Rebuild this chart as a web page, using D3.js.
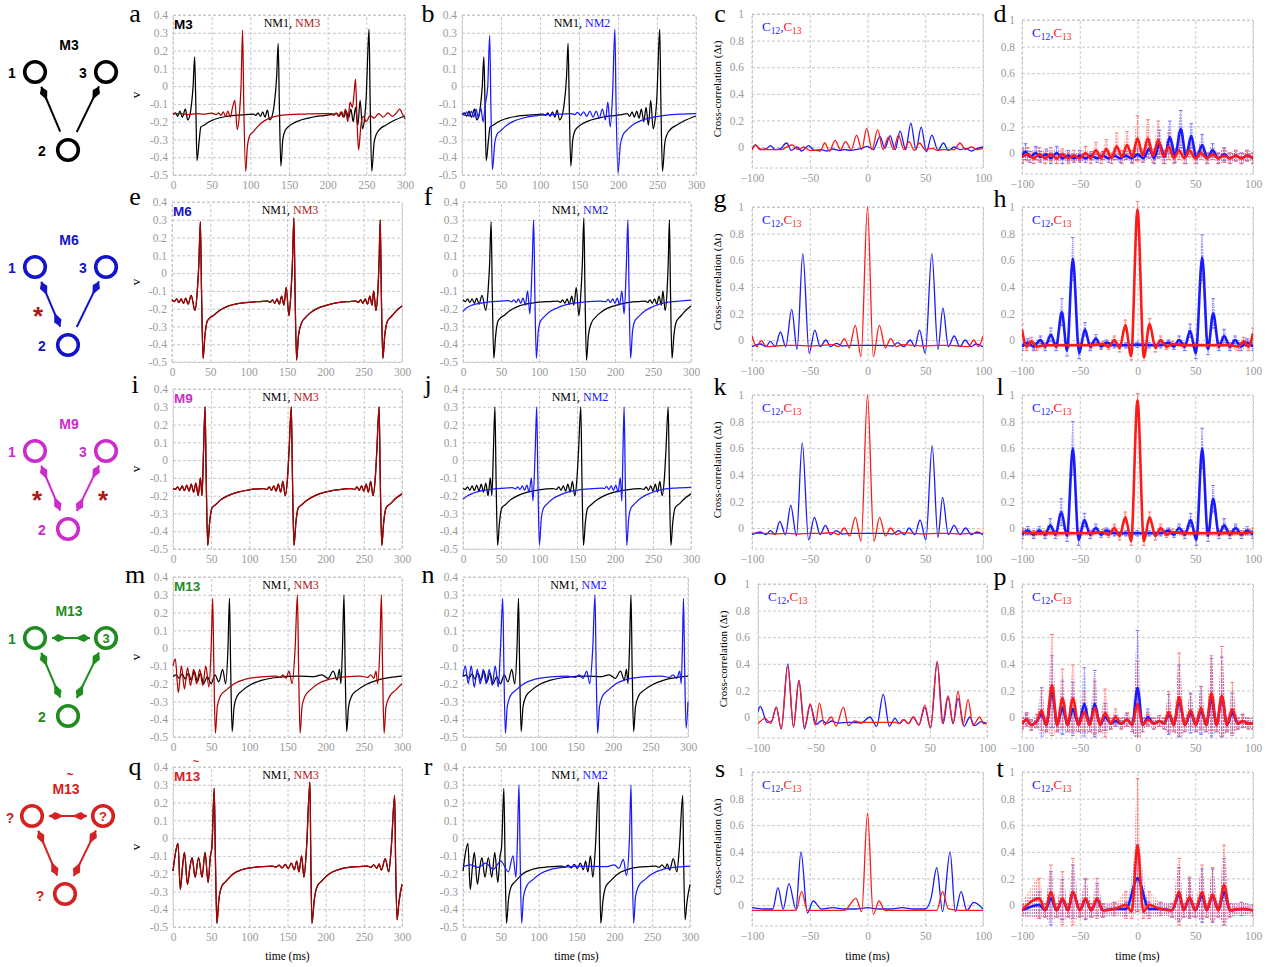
<!DOCTYPE html>
<html><head><meta charset="utf-8">
<script src="https://cdn.jsdelivr.net/npm/d3@7/dist/d3.min.js"></script>
<style>html,body{margin:0;padding:0;background:#fff}svg{display:block}</style>
</head><body>
<script>
// ================= DATA =================
const timeTicks=[0,50,100,150,200,250,300];
const voltTicks=[0.4,0.3,0.2,0.1,0,-0.1,-0.2,-0.3,-0.4,-0.5];
const lagTicks=[-100,-50,0,50,100];
const corrTicks=[0,0.2,0.4,0.6,0.8,1];
const motifNames=["M3","M6","M9","M13","M13"];
const letters=[["a","b","c","d"],["e","f","g","h"],["i","j","k","l"],["m","n","o","p"],["q","r","s","t"]];

// membrane voltage traces [time ms, v]
const r1NM1=[[0,-0.16],[3,-0.15],[6,-0.17],[9,-0.14],[12,-0.175],[16,-0.13],[19,-0.19],[22,-0.16],[24,-0.1],[26,0.0],[28,0.165],[29.5,-0.1],[31,-0.42],[34,-0.3],[36,-0.23],[40,-0.22],[45,-0.205],[55,-0.185],[70,-0.17],[90,-0.162],[104,-0.158],[107,-0.165],[110,-0.15],[113,-0.17],[116,-0.145],[119,-0.175],[122,-0.135],[125,-0.19],[128,-0.17],[131,-0.1],[134,0.05],[136,0.24],[137.5,-0.1],[139.5,-0.45],[142,-0.3],[145,-0.25],[150,-0.225],[160,-0.2],[175,-0.18],[190,-0.168],[205,-0.16],[212,-0.155],[215,-0.17],[218,-0.145],[221,-0.175],[224,-0.14],[227,-0.18],[230,-0.13],[233,-0.2],[236,-0.12],[239,-0.22],[242,-0.08],[245,-0.24],[248,-0.17],[250,-0.05],[252,0.2],[253.5,0.32],[255,-0.1],[257,-0.48],[260,-0.32],[263,-0.27],[268,-0.24],[275,-0.22],[285,-0.195],[300,-0.168]];
const r1NM3=[[0,-0.155],[10,-0.155],[20,-0.16],[30,-0.155],[40,-0.158],[50,-0.152],[56,-0.16],[59,-0.15],[62,-0.165],[65,-0.145],[68,-0.17],[71,-0.14],[74,-0.175],[77,-0.12],[80,-0.08],[83,-0.245],[86,-0.15],[88,0.0],[90,0.315],[91.5,-0.1],[94,-0.48],[96,-0.35],[99,-0.28],[103,-0.26],[108,-0.235],[115,-0.205],[125,-0.18],[135,-0.168],[150,-0.16],[170,-0.157],[190,-0.155],[205,-0.155],[208,-0.165],[211,-0.15],[214,-0.17],[217,-0.145],[220,-0.175],[223,-0.13],[226,-0.2],[229,-0.09],[232,-0.12],[234,-0.05],[236,0.04],[238,-0.2],[240,-0.36],[243,-0.22],[246,-0.17],[250,-0.2],[255,-0.165],[260,-0.18],[266,-0.155],[272,-0.175],[278,-0.15],[284,-0.17],[290,-0.145],[293,-0.13],[297,-0.16],[300,-0.185]];
const r1NM2=[[0,-0.155],[3,-0.165],[6,-0.145],[9,-0.17],[12,-0.14],[15,-0.175],[18,-0.13],[21,-0.18],[24,-0.12],[27,-0.2],[30,-0.1],[33,0.0],[35.5,0.285],[37,-0.1],[39,-0.47],[42,-0.32],[45,-0.27],[50,-0.25],[56,-0.225],[65,-0.2],[78,-0.18],[95,-0.167],[115,-0.16],[130,-0.157],[140,-0.155],[145,-0.16],[148,-0.148],[152,-0.165],[156,-0.145],[160,-0.17],[164,-0.14],[168,-0.175],[172,-0.14],[176,-0.18],[180,-0.13],[184,-0.19],[187,-0.09],[190,-0.23],[193,-0.05],[196,0.32],[197.5,-0.1],[200,-0.49],[203,-0.33],[207,-0.27],[212,-0.245],[220,-0.215],[232,-0.19],[245,-0.175],[260,-0.165],[280,-0.158],[300,-0.155]];
const r2NM1=[[0,-0.15],[3,-0.16],[6,-0.145],[9,-0.165],[12,-0.145],[15,-0.17],[18,-0.14],[21,-0.175],[25,-0.125],[30,-0.21],[33,-0.1],[35,0.05],[37,0.29],[38.5,-0.1],[40.5,-0.48],[43,-0.35],[46,-0.27],[50,-0.25],[55,-0.235],[62,-0.21],[75,-0.183],[93,-0.167],[115,-0.16],[125,-0.158],[128,-0.165],[131,-0.15],[134,-0.17],[137,-0.145],[140,-0.175],[143,-0.13],[146,-0.18],[149,-0.08],[152.5,-0.24],[155,-0.12],[157,0.05],[159,0.31],[160.5,-0.1],[162.5,-0.49],[165,-0.35],[169,-0.28],[174,-0.25],[180,-0.225],[189,-0.2],[200,-0.183],[211,-0.17],[232,-0.16],[240,-0.158],[243,-0.165],[246,-0.15],[249,-0.17],[252,-0.145],[255,-0.175],[258,-0.13],[261,-0.18],[263,-0.1],[266,-0.21],[268.5,-0.1],[270,0.05],[271.6,0.3],[273,-0.1],[275,-0.48],[277.5,-0.35],[281,-0.27],[287,-0.24],[293,-0.21],[300,-0.185]];
const r2NM2=[[0,-0.215],[5,-0.195],[12,-0.18],[22,-0.17],[35,-0.162],[50,-0.158],[60,-0.155],[64,-0.162],[67,-0.15],[70,-0.165],[73,-0.145],[76,-0.17],[79,-0.14],[82,-0.18],[85,-0.1],[88,-0.23],[91,0.05],[93,0.3],[94.5,-0.1],[96.5,-0.48],[99,-0.33],[102,-0.27],[107,-0.245],[115,-0.215],[127,-0.19],[142,-0.172],[160,-0.162],[180,-0.157],[188,-0.16],[191,-0.148],[194,-0.165],[197,-0.145],[200,-0.17],[203,-0.14],[206,-0.18],[209,-0.1],[212,-0.23],[215,0.05],[217,0.3],[218.5,-0.1],[220.5,-0.48],[223,-0.33],[226,-0.27],[231,-0.245],[240,-0.21],[252,-0.185],[268,-0.165],[285,-0.157],[300,-0.152]];
const r3NM1=[[0,-0.16],[3,-0.165],[6,-0.15],[9,-0.17],[12,-0.145],[15,-0.172],[18,-0.14],[21,-0.175],[24,-0.135],[27,-0.18],[30,-0.13],[33,-0.2],[36,-0.1],[38,-0.2],[40,0.05],[42,0.3],[43.5,-0.1],[45.5,-0.48],[48,-0.35],[51,-0.27],[56,-0.25],[62,-0.225],[72,-0.2],[85,-0.18],[100,-0.167],[118,-0.16],[123,-0.165],[126,-0.15],[129,-0.17],[132,-0.145],[135,-0.175],[138,-0.135],[141,-0.18],[144,-0.12],[147,-0.2],[150,-0.1],[152,0.05],[155,0.3],[156.5,-0.1],[158.5,-0.48],[161,-0.35],[164,-0.27],[169,-0.25],[176,-0.225],[186,-0.2],[199,-0.18],[215,-0.167],[233,-0.16],[238,-0.165],[241,-0.15],[244,-0.17],[247,-0.145],[250,-0.175],[253,-0.135],[256,-0.18],[259,-0.12],[262,-0.2],[265,-0.1],[267,0.05],[270,0.3],[271.5,-0.1],[273.5,-0.48],[276,-0.35],[279,-0.27],[285,-0.245],[292,-0.215],[300,-0.19]];
const r3NM2=[[0,-0.22],[6,-0.2],[14,-0.185],[25,-0.172],[40,-0.163],[55,-0.158],[65,-0.155],[69,-0.162],[72,-0.15],[75,-0.165],[78,-0.145],[81,-0.17],[84,-0.14],[87,-0.18],[90,-0.1],[92,-0.23],[95,0.05],[97,0.3],[98.5,-0.1],[100.5,-0.48],[103,-0.33],[106,-0.27],[111,-0.245],[119,-0.215],[131,-0.19],[146,-0.172],[165,-0.162],[183,-0.157],[186,-0.16],[189,-0.148],[192,-0.165],[195,-0.145],[198,-0.17],[201,-0.14],[204,-0.18],[207,-0.1],[209,-0.23],[210.5,0.05],[212,0.3],[213.5,-0.1],[215.5,-0.48],[218,-0.33],[221,-0.27],[226,-0.245],[235,-0.21],[247,-0.185],[263,-0.165],[280,-0.157],[300,-0.153]];
const r4NM1=[[0,-0.16],[4,-0.15],[8,-0.17],[12,-0.145],[16,-0.175],[20,-0.14],[24,-0.18],[28,-0.13],[32,-0.19],[36,-0.14],[40,-0.2],[45,-0.16],[50,-0.2],[55,-0.15],[60,-0.19],[65,-0.12],[69,-0.2],[72,0.0],[74,0.28],[75.5,-0.1],[77.5,-0.47],[80,-0.33],[84,-0.27],[92,-0.235],[102,-0.205],[117,-0.18],[137,-0.165],[165,-0.158],[185,-0.16],[195,-0.15],[203,-0.17],[210,-0.13],[215,-0.18],[218,-0.12],[220,-0.2],[222,0.0],[224,0.3],[225.5,-0.1],[227.5,-0.47],[230,-0.33],[234,-0.27],[242,-0.235],[253,-0.205],[268,-0.18],[285,-0.165],[300,-0.158]];
const r4NM3=[[0,-0.1],[3,-0.06],[7,-0.25],[11,-0.1],[15,-0.23],[19,-0.11],[23,-0.21],[27,-0.12],[31,-0.2],[35,-0.12],[39,-0.21],[43,-0.1],[47,-0.22],[50,0.0],[52,0.28],[53.5,-0.1],[55.5,-0.48],[58,-0.33],[62,-0.27],[70,-0.235],[80,-0.2],[95,-0.175],[115,-0.162],[135,-0.157],[140,-0.165],[144,-0.15],[148,-0.17],[152,-0.13],[156,-0.2],[160,0.0],[163,0.3],[164.5,-0.1],[166.5,-0.48],[169,-0.33],[173,-0.27],[180,-0.235],[190,-0.2],[205,-0.175],[225,-0.162],[245,-0.157],[255,-0.165],[259,-0.15],[263,-0.17],[266,-0.13],[268,-0.2],[271,0.0],[273,0.3],[274.5,-0.1],[276.5,-0.48],[279,-0.33],[284,-0.27],[292,-0.235],[300,-0.2]];
const r4NM2=[[0,-0.16],[3,-0.1],[7,-0.2],[11,-0.1],[15,-0.22],[19,-0.12],[23,-0.2],[27,-0.12],[31,-0.2],[35,-0.12],[39,-0.21],[43,-0.1],[47,-0.22],[50,0.0],[53,0.28],[54.5,-0.1],[56.5,-0.48],[59,-0.33],[63,-0.27],[71,-0.235],[81,-0.2],[96,-0.175],[116,-0.162],[140,-0.157],[150,-0.165],[155,-0.15],[160,-0.17],[165,-0.13],[169,-0.2],[173,0.0],[176,0.3],[177.5,-0.1],[179.5,-0.48],[182,-0.33],[186,-0.27],[194,-0.235],[204,-0.2],[219,-0.175],[240,-0.162],[265,-0.157],[275,-0.165],[280,-0.15],[285,-0.17],[289,-0.13],[291,-0.2],[292.5,0.0],[294,0.28],[295.5,-0.1],[297.5,-0.45],[300,-0.3]];
const r5NM1=[[0,-0.185],[3,-0.09],[6.5,-0.03],[9.6,-0.29],[12.5,-0.16],[15,-0.08],[19,-0.26],[22,-0.17],[25,-0.11],[29,-0.22],[33.5,-0.11],[38,-0.22],[42,-0.08],[46,-0.25],[49,-0.1],[51,-0.05],[54,0.28],[55.5,-0.1],[57.5,-0.48],[60,-0.35],[64,-0.27],[69,-0.245],[79,-0.2],[90,-0.178],[100,-0.168],[118,-0.16],[130,-0.158],[135,-0.163],[139,-0.152],[143,-0.168],[147,-0.148],[151,-0.172],[155,-0.14],[159,-0.178],[162,-0.13],[165,-0.19],[168.5,-0.1],[171.5,-0.22],[175,-0.05],[179.4,0.315],[180.5,-0.1],[182,-0.48],[185,-0.35],[189,-0.27],[194,-0.245],[205,-0.2],[215,-0.18],[225,-0.168],[245,-0.16],[255,-0.158],[259,-0.165],[263,-0.15],[267,-0.17],[270,-0.145],[273,-0.18],[278,-0.115],[282.6,-0.19],[286,-0.05],[290.4,0.24],[291.5,-0.1],[293.5,-0.46],[296,-0.36],[300,-0.26]];
const r5NM2=[[0,-0.16],[10,-0.15],[20,-0.165],[30,-0.14],[40,-0.175],[50,-0.13],[60,-0.19],[66,-0.1],[70,-0.22],[72,0.0],[74,0.3],[75.5,-0.1],[77.5,-0.48],[80,-0.33],[84,-0.27],[92,-0.235],[102,-0.2],[117,-0.175],[137,-0.162],[160,-0.157],[190,-0.16],[200,-0.15],[206,-0.17],[212,-0.12],[216,-0.21],[220,0.0],[222,0.3],[223.5,-0.1],[225.5,-0.48],[228,-0.33],[232,-0.27],[240,-0.235],[250,-0.2],[265,-0.175],[285,-0.162],[300,-0.157]];

// single-trial cross-correlations [lag ms, value]
const cC12=[[-100,-0.02],[-97,0.015],[-93,-0.02],[-88,-0.015],[-84,0.01],[-80,-0.02],[-76,-0.015],[-70,0.03],[-66,-0.025],[-61,0.0],[-57,-0.03],[-51,0.01],[-46,-0.025],[-40,-0.02],[-35,-0.03],[-30,-0.015],[-25,-0.025],[-20,-0.02],[-15,-0.025],[-10,-0.02],[-5,-0.01],[0,0.005],[5,-0.02],[10.8,0.08],[15,-0.01],[19.5,0.085],[24,-0.02],[28.2,0.12],[33,-0.02],[37.5,0.18],[42,-0.02],[46.5,0.15],[51,-0.035],[55.7,0.09],[61,-0.025],[65.8,0.03],[70,-0.025],[75,0.0],[80,-0.02],[85,-0.01],[90,-0.03],[95,-0.01],[100,0.0]];
const cC13=[[-100,-0.02],[-97,0.015],[-93,-0.015],[-85,-0.02],[-75,-0.02],[-69,0.005],[-65,0.015],[-60,-0.02],[-55,0.0],[-50,-0.025],[-45,-0.025],[-41,-0.03],[-37,0.03],[-33,-0.03],[-28,0.05],[-23.5,-0.02],[-19,0.04],[-14,-0.02],[-9.4,0.09],[-5,-0.02],[-0.7,0.14],[4,-0.02],[8.8,0.13],[13.5,-0.02],[18,0.075],[22.5,-0.02],[26.8,0.09],[31.5,-0.02],[36,0.04],[40.5,-0.025],[45,0.03],[50,-0.02],[56,-0.01],[60,-0.025],[65,-0.02],[75,-0.02],[80,0.03],[85,-0.02],[90,0.0],[95,-0.02],[100,-0.01]];
const gC12=[[-100,-0.05],[-93,-0.03],[-88,-0.05],[-84,-0.01],[-80,-0.05],[-75.4,0.06],[-70.8,-0.05],[-65.6,0.23],[-61,-0.07],[-56,0.65],[-50.5,-0.1],[-45.6,0.075],[-41,-0.05],[-36,0.0],[-32,-0.05],[-27,-0.025],[-22,-0.045],[-15,-0.04],[-5,-0.04],[0,-0.04],[5,-0.04],[15,-0.04],[22,-0.045],[26,-0.02],[31.5,-0.05],[37,0.0],[41,-0.05],[45,0.075],[50,-0.1],[55.7,0.65],[61,-0.07],[65.3,0.24],[70,-0.05],[75,0.03],[80,-0.05],[84.6,0.0],[89.6,-0.05],[94,-0.03],[100,-0.05]];
const gC13=[[-100,0.03],[-96,-0.05],[-92,-0.005],[-87.5,-0.05],[-80,-0.045],[-70,-0.04],[-60,-0.04],[-50,-0.045],[-40,-0.04],[-30,-0.035],[-25,-0.05],[-20,0.01],[-15.8,-0.06],[-10.6,0.11],[-5.6,-0.125],[0,1.0],[5,-0.125],[10.3,0.11],[15.5,-0.06],[20,0.01],[25,-0.05],[30,-0.035],[40,-0.04],[50,-0.045],[60,-0.04],[70,-0.04],[80,-0.045],[87.5,-0.05],[92,0.0],[96,-0.05],[100,0.03]];
const kC12=[[-100,-0.05],[-93,-0.03],[-88,-0.05],[-84,-0.02],[-80,-0.05],[-76,0.05],[-71,-0.05],[-66.5,0.17],[-61.5,-0.06],[-56.5,0.64],[-51,-0.09],[-46,0.08],[-41,-0.05],[-36.5,0.02],[-32,-0.05],[-27,-0.02],[-22,-0.045],[-15,-0.04],[0,-0.04],[15,-0.04],[22,-0.045],[27,-0.02],[32,-0.05],[36,0.0],[41,-0.05],[45.5,0.06],[50.5,-0.09],[56,0.62],[61,-0.07],[65,0.23],[70,-0.05],[75,0.02],[80,-0.05],[85,0.0],[90,-0.05],[95,-0.03],[100,-0.05]];
const kC13=[[-100,-0.04],[-90,-0.04],[-80,-0.045],[-70,-0.04],[-60,-0.045],[-50,-0.04],[-40,-0.04],[-30,-0.035],[-25,-0.05],[-20,0.0],[-15.5,-0.06],[-10.5,0.08],[-5.5,-0.1],[0,1.0],[5.5,-0.1],[10.5,0.08],[15.5,-0.06],[20,0.0],[25,-0.05],[30,-0.035],[40,-0.04],[50,-0.045],[60,-0.04],[70,-0.04],[80,-0.045],[90,-0.04],[100,-0.04]];
const oC12=[[-100,0.04],[-98,0.08],[-92,-0.04],[-88,-0.03],[-84,0.075],[-79.7,-0.09],[-74,0.4],[-69,-0.075],[-64.3,0.275],[-59.4,-0.09],[-54.4,0.09],[-49,-0.055],[-44,-0.025],[-40,-0.05],[-35.6,-0.03],[-30,-0.045],[-20,-0.04],[-10,-0.045],[-2.2,0.0],[3.6,-0.07],[9.4,0.17],[14.7,-0.07],[19.6,-0.01],[23.5,-0.05],[27.4,-0.02],[31.5,-0.05],[35.6,0.0],[40.5,-0.06],[45.7,0.07],[50.7,-0.08],[56.5,0.41],[61.7,-0.05],[66,0.15],[70.4,-0.05],[74.7,0.14],[80,-0.07],[85,0.0],[89,-0.065],[95,-0.035],[100,-0.05]];
const oC13=[[-100,-0.05],[-93.6,-0.01],[-89,-0.05],[-84,0.075],[-79.7,-0.09],[-74,0.38],[-69,-0.075],[-64.3,0.275],[-59.4,-0.075],[-54.4,0.1],[-50,-0.06],[-46.3,0.105],[-42,-0.06],[-36,0.0],[-31.8,-0.07],[-25.4,0.075],[-21,-0.065],[-16,-0.03],[-10,-0.04],[0,-0.04],[10,-0.04],[20,-0.04],[23,-0.05],[27,-0.02],[31.5,-0.05],[35.6,0.0],[40.5,-0.06],[45.7,0.09],[50.7,-0.085],[56.5,0.42],[61,-0.05],[66,0.16],[70.4,-0.05],[74.7,0.195],[79,-0.06],[83.5,0.13],[87.8,-0.065],[93.6,0.0],[97,-0.05],[100,-0.05]];
const sC12=[[-100,-0.02],[-90,-0.03],[-82,-0.03],[-77.5,0.13],[-73,-0.03],[-68,0.16],[-62,-0.03],[-57.6,0.4],[-52,-0.06],[-47,0.03],[-40,-0.03],[-30,-0.02],[-20,-0.03],[-10,-0.03],[0,-0.02],[10,-0.03],[20,-0.03],[30,-0.02],[40,-0.03],[50,-0.03],[55,0.05],[60,0.28],[65,-0.05],[71.5,0.4],[76,-0.05],[81,0.1],[86,-0.04],[92,0.02],[100,-0.03]];
const sC13=[[-100,-0.04],[-80,-0.04],[-62,-0.04],[-57,0.1],[-52,-0.04],[-40,-0.04],[-20,-0.04],[-10,0.05],[-5,-0.05],[0,0.69],[5,-0.07],[10,0.03],[15,-0.04],[40,-0.04],[60,-0.04],[65,0.1],[70,-0.03],[80,-0.04],[100,-0.04]];

// trial-averaged cross-correlations [lag ms, mean, sd]
const dC12=[[-100,-0.02,0.05],[-97,0.01,0.06],[-93,-0.03,0.04],[-88,0.0,0.05],[-84,-0.03,0.04],[-79,-0.01,0.04],[-75,-0.04,0.04],[-70,0.0,0.05],[-65,-0.04,0.04],[-60,-0.02,0.04],[-55,-0.04,0.03],[-50,-0.02,0.04],[-45,-0.04,0.03],[-40,-0.02,0.03],[-35,-0.04,0.03],[-30,-0.02,0.03],[-25,-0.04,0.03],[-20,-0.02,0.03],[-15,-0.04,0.03],[-10,-0.02,0.03],[-5,-0.04,0.03],[0,-0.01,0.04],[5,-0.04,0.03],[10,0.03,0.07],[14.5,-0.04,0.04],[19,0.07,0.1],[23.5,-0.03,0.05],[28,0.12,0.12],[32.5,-0.02,0.05],[37.5,0.18,0.14],[42,-0.03,0.05],[46.5,0.13,0.09],[51,-0.04,0.04],[56,0.06,0.08],[60.5,-0.04,0.04],[65,0.02,0.05],[70,-0.04,0.04],[75,-0.01,0.05],[80,-0.04,0.04],[85,-0.02,0.04],[90,-0.04,0.04],[95,-0.02,0.04],[100,-0.04,0.04]];
const dC13=[[-100,-0.03,0.05],[-95,-0.01,0.05],[-90,-0.04,0.04],[-85,-0.01,0.05],[-80,-0.04,0.04],[-75,-0.01,0.05],[-70,-0.04,0.04],[-65,-0.01,0.04],[-60,-0.04,0.04],[-55,-0.02,0.04],[-50,-0.04,0.03],[-45,0.0,0.05],[-40.5,-0.04,0.04],[-36,0.02,0.06],[-31.5,-0.04,0.04],[-27,0.03,0.07],[-22.5,-0.04,0.04],[-18,0.05,0.1],[-13.5,-0.03,0.05],[-9,0.06,0.1],[-4.5,-0.03,0.05],[0,0.11,0.17],[4.5,-0.02,0.05],[9,0.11,0.14],[13.5,-0.02,0.05],[18,0.1,0.14],[22.5,-0.03,0.05],[27,0.05,0.1],[31.5,-0.04,0.04],[36,0.02,0.07],[40.5,-0.04,0.04],[45,0.02,0.05],[50,-0.04,0.04],[55,0.0,0.05],[60,-0.04,0.04],[65,-0.01,0.04],[70,-0.04,0.04],[75,-0.02,0.05],[80,-0.04,0.04],[85,-0.02,0.04],[90,-0.04,0.04],[95,-0.02,0.04],[100,-0.04,0.04]];
const hC12=[[-100,-0.05,0.03],[-95,-0.02,0.03],[-90,-0.05,0.03],[-84,0.0,0.03],[-80,-0.05,0.03],[-75,0.04,0.05],[-70.5,-0.05,0.03],[-65.5,0.21,0.1],[-61,-0.08,0.04],[-56,0.61,0.16],[-50.5,-0.1,0.04],[-45.5,0.08,0.05],[-41,-0.05,0.03],[-36,0.01,0.03],[-31.5,-0.05,0.02],[-27,-0.02,0.02],[-20,-0.04,0.02],[-10,-0.04,0.02],[0,-0.035,0.02],[10,-0.04,0.02],[20,-0.04,0.02],[27,-0.02,0.02],[31.5,-0.05,0.02],[36,0.0,0.03],[41,-0.05,0.03],[45.5,0.07,0.05],[50.5,-0.1,0.04],[56,0.62,0.17],[61,-0.07,0.04],[65.5,0.2,0.11],[70.5,-0.05,0.03],[75,0.03,0.05],[80,-0.05,0.03],[84.5,0.0,0.03],[89.5,-0.05,0.03],[95,-0.02,0.03],[100,-0.05,0.03]];
const hC13=[[-100,0.08,0.04],[-96,-0.05,0.03],[-92,-0.01,0.03],[-87.5,-0.05,0.03],[-80,-0.04,0.02],[-70,-0.04,0.02],[-60,-0.04,0.02],[-50,-0.04,0.02],[-40,-0.04,0.02],[-30,-0.03,0.02],[-25,-0.05,0.02],[-20,0.0,0.03],[-15.5,-0.06,0.03],[-10.5,0.11,0.04],[-5.5,-0.12,0.03],[0,0.98,0.06],[5.5,-0.13,0.03],[10.5,0.12,0.04],[15.5,-0.06,0.03],[20,0.0,0.03],[25,-0.05,0.02],[30,-0.03,0.02],[40,-0.04,0.02],[50,-0.04,0.02],[60,-0.04,0.02],[70,-0.04,0.02],[80,-0.04,0.02],[87.5,-0.05,0.03],[92,-0.01,0.03],[96,-0.05,0.03],[100,0.05,0.04]];
const lC12=[[-100,-0.05,0.03],[-95,-0.02,0.03],[-90,-0.05,0.03],[-85,-0.02,0.03],[-80,-0.05,0.03],[-75.5,0.02,0.05],[-71,-0.05,0.03],[-66,0.12,0.1],[-61,-0.06,0.04],[-56,0.6,0.2],[-51,-0.09,0.04],[-46,0.06,0.05],[-41,-0.05,0.03],[-36,0.0,0.03],[-31.5,-0.05,0.02],[-27,-0.02,0.02],[-20,-0.04,0.02],[-10,-0.04,0.02],[0,-0.04,0.02],[10,-0.04,0.02],[20,-0.04,0.02],[27,-0.02,0.02],[31.5,-0.05,0.02],[36,0.0,0.03],[41,-0.05,0.03],[46,0.06,0.05],[51,-0.09,0.04],[56,0.6,0.15],[61,-0.06,0.04],[65.5,0.22,0.1],[70.5,-0.05,0.03],[75,0.02,0.05],[80,-0.05,0.03],[85,0.0,0.03],[90,-0.05,0.03],[95,-0.02,0.03],[100,-0.05,0.03]];
const lC13=[[-100,-0.03,0.03],[-90,-0.04,0.02],[-80,-0.04,0.02],[-70,-0.04,0.02],[-60,-0.04,0.02],[-50,-0.04,0.02],[-40,-0.04,0.02],[-30,-0.03,0.02],[-25,-0.05,0.02],[-20,0.0,0.03],[-15.5,-0.06,0.03],[-10.5,0.08,0.04],[-5.5,-0.1,0.03],[0,0.96,0.05],[5.5,-0.1,0.03],[10.5,0.08,0.04],[15.5,-0.06,0.03],[20,0.0,0.03],[25,-0.05,0.02],[30,-0.03,0.02],[40,-0.04,0.02],[50,-0.04,0.02],[60,-0.04,0.02],[70,-0.04,0.02],[80,-0.04,0.02],[90,-0.04,0.02],[100,-0.03,0.03]];
const pC12=[[-100,-0.05,0.04],[-96,-0.02,0.05],[-92,-0.06,0.04],[-87,-0.03,0.05],[-83,0.02,0.2],[-79,-0.06,0.05],[-74,0.19,0.27],[-69.5,-0.06,0.05],[-65,0.07,0.2],[-60.5,-0.06,0.05],[-56,0.06,0.2],[-51,-0.06,0.05],[-46,0.1,0.27],[-41.5,-0.06,0.05],[-37,0.1,0.25],[-32.5,-0.06,0.05],[-28,0.0,0.1],[-23,-0.05,0.04],[-19,-0.03,0.04],[-14,-0.05,0.04],[-9,-0.02,0.05],[-4.5,-0.06,0.05],[0,0.22,0.43],[4.5,-0.06,0.05],[9,0.0,0.06],[14,-0.05,0.04],[19,-0.03,0.04],[23,-0.05,0.04],[27,0.02,0.15],[31.5,-0.06,0.05],[36,0.12,0.27],[41,-0.06,0.05],[46,0.03,0.15],[50.5,-0.06,0.05],[55,0.05,0.18],[59.5,-0.06,0.05],[64,0.14,0.3],[68.5,-0.06,0.05],[73,0.15,0.3],[77.5,-0.06,0.05],[82,0.03,0.15],[87,-0.05,0.04],[91,-0.03,0.05],[96,-0.05,0.04],[100,-0.05,0.04]];
const pC13=[[-100,-0.05,0.04],[-96,-0.02,0.05],[-92,-0.06,0.04],[-87,-0.03,0.05],[-83,0.05,0.15],[-79,-0.06,0.05],[-74,0.24,0.38],[-69.5,-0.06,0.05],[-65,0.14,0.22],[-60.5,-0.06,0.05],[-56,0.14,0.25],[-51,-0.06,0.05],[-46,0.04,0.15],[-41.5,-0.06,0.05],[-37,0.07,0.2],[-32.5,-0.06,0.05],[-28,0.03,0.18],[-23,-0.05,0.04],[-19,0.0,0.06],[-14,-0.05,0.04],[-9,-0.02,0.05],[-4.5,-0.06,0.05],[0,0.1,0.32],[4.5,-0.06,0.05],[9,-0.02,0.05],[14,-0.05,0.04],[19,-0.03,0.04],[23,-0.05,0.04],[27,0.04,0.15],[31.5,-0.06,0.05],[36,0.15,0.33],[41,-0.06,0.05],[46,0.05,0.12],[50.5,-0.06,0.05],[55,0.07,0.16],[59.5,-0.06,0.05],[64,0.18,0.28],[68.5,-0.06,0.05],[73,0.16,0.37],[77.5,-0.06,0.05],[82,0.06,0.2],[87,-0.05,0.04],[91,-0.03,0.05],[96,-0.05,0.04],[100,-0.05,0.04]];
const tC12=[[-100,-0.04,0.04],[-85,0.0,0.1],[-80,-0.04,0.05],[-75,0.05,0.2],[-70,-0.04,0.05],[-65,0.04,0.15],[-60,-0.04,0.05],[-56,0.1,0.2],[-50,-0.04,0.05],[-45,0.04,0.15],[-40,-0.04,0.05],[-35,0.04,0.12],[-30,-0.04,0.05],[-20,-0.03,0.05],[-10,-0.03,0.05],[0,0.2,0.25],[10,-0.03,0.05],[20,-0.03,0.05],[30,-0.04,0.05],[36,0.08,0.2],[40,-0.04,0.05],[45,0.05,0.15],[50,-0.04,0.05],[56,0.07,0.2],[60,-0.04,0.05],[65,0.07,0.2],[70,-0.04,0.05],[75,0.1,0.25],[80,-0.04,0.05],[90,-0.03,0.05],[100,-0.04,0.04]];
const tC13=[[-100,-0.04,0.04],[-85,0.05,0.15],[-80,-0.04,0.05],[-75,0.1,0.2],[-70,-0.04,0.05],[-65,0.05,0.2],[-60,-0.04,0.05],[-56,0.1,0.25],[-50,-0.04,0.05],[-45,0.05,0.15],[-40,-0.04,0.05],[-35,0.05,0.15],[-30,-0.04,0.05],[-20,-0.03,0.05],[-10,0.0,0.1],[-5,-0.05,0.05],[0,0.45,0.5],[5,-0.05,0.05],[10,0.0,0.1],[20,-0.03,0.05],[30,-0.04,0.05],[36,0.1,0.25],[40,-0.04,0.05],[45,0.06,0.15],[50,-0.04,0.05],[56,0.1,0.2],[60,-0.04,0.05],[65,0.08,0.2],[70,-0.04,0.05],[75,0.15,0.3],[80,-0.04,0.05],[90,-0.03,0.05],[100,-0.04,0.04]];

const voltRows=[{nm1:r1NM1,nm3:r1NM3,nm2:r1NM2},{nm1:r2NM1,nm3:r2NM1,nm2:r2NM2},{nm1:r3NM1,nm3:r3NM1,nm2:r3NM2},{nm1:r4NM1,nm3:r4NM3,nm2:r4NM2},{nm1:r5NM1,nm3:r5NM1,nm2:r5NM2}];
const corrRows=[[cC12,cC13],[gC12,gC13],[kC12,kC13],[oC12,oC13],[sC12,sC13]];
const errRows=[[dC12,dC13],[hC12,hC13],[lC12,lC13],[pC12,pC13],[tC12,tC13]];

// ================= LAYOUT / STYLE =================
const SERIF="'Liberation Serif','Times New Roman',serif";
const SANS="'Liberation Sans',Arial,sans-serif";
const GRID="#c8c8c8", TICK="#9a9a9a";
const COL={nm1:"#000",nm3:"#b00000",nm2:"#1a1aff",c12:"#1a1aff",c13:"#ff1a1a"};
const motifColors=["#000000","#1414c8","#cc2ccc","#1e8c1e","#d42222"];
const voltTop=[15,202,389,577,767], corrTop=[14,207,395,584,772], errTop=[20,207,395,584,772];
const colA=[[173,405],[172,402],[173,402],[173,402],[173,402]];
const colB=[[462,696],[463,691],[463,691],[463,688],[463,690]];
const colC=[[752,983],[752,983],[752,983],[758,987],[752,983]];
const colD=[[1022,1253],[1022,1253],[1022,1253],[1022,1253],[1022,1253]];
const letterX=[135,428,720,1000], letterY=[22,205,393,583,775];

const svg=d3.select("body").append("svg").attr("width",1281).attr("height",967);
const defs=svg.append("defs");
[["pb","#3b3bff"],["pr","#ff3b3b"]].forEach(([id,c])=>{
  const p=defs.append("pattern").attr("id",id).attr("patternUnits","userSpaceOnUse").attr("width",2.2).attr("height",3);
  p.append("rect").attr("x",0).attr("y",0).attr("width",1).attr("height",2).attr("fill",c).attr("opacity",0.55);
});
let clipN=0;
const fmt=d=>String(+d.toFixed(1));

function styleAxis(g){
  g.select(".domain").remove();
  g.selectAll(".tick line").attr("stroke",GRID).attr("stroke-dasharray","3,2");
  g.selectAll(".tick text").attr("fill",TICK).style("font-family",SERIF).style("font-size","11.5px");
}
function frameRect(g,x0,x1,y0,y1){
  g.append("rect").attr("x",x0).attr("y",y0).attr("width",x1-x0).attr("height",y1-y0)
   .attr("fill","none").attr("stroke",GRID).attr("stroke-dasharray","3,2");
}
function clip(x0,x1,y0,y1){
  const id="cl"+(clipN++);
  defs.append("clipPath").attr("id",id).append("rect").attr("x",x0).attr("y",y0).attr("width",x1-x0).attr("height",y1-y0);
  return "url(#"+id+")";
}

function voltPanel(row,col,xr,series,legendKey){
  const top=voltTop[row], bot=top+160;
  const x=d3.scaleLinear().domain([0,300]).range(xr);
  const y=d3.scaleLinear().domain([-0.5,0.4]).range([bot,top]);
  const g=svg.append("g");
  g.append("g").attr("transform",`translate(0,${bot})`).call(d3.axisBottom(x).tickValues(timeTicks).tickSize(-(bot-top)).tickPadding(6)).call(styleAxis);
  g.append("g").attr("transform",`translate(${xr[0]},0)`).call(d3.axisLeft(y).tickValues(voltTicks).tickFormat(fmt).tickSize(-(xr[1]-xr[0])).tickPadding(5)).call(styleAxis);
  frameRect(g,xr[0],xr[1],top,bot);
  const line=d3.line().x(d=>x(d[0])).y(d=>y(d[1])).curve(d3.curveMonotoneX);
  series.forEach(s=>g.append("path").datum(s.data).attr("d",line).attr("fill","none").attr("stroke",s.color).attr("stroke-width",1.25));
  const t=g.append("text").attr("x",(xr[0]+xr[1])/2+3).attr("y",top+12).attr("text-anchor","middle").style("font-family",SERIF).style("font-size","12px");
  t.append("tspan").attr("fill","#000").text("NM1, ");
  t.append("tspan").attr("fill",legendKey==="nm3"?"#b02020":"#1a1aff").text(legendKey==="nm3"?"NM3":"NM2");
  svg.append("text").attr("x",letterX[col]).attr("y",letterY[row]).attr("text-anchor","middle").style("font-family",SERIF).style("font-size","26px").text(letters[row][col]);
  if(col===0){
    svg.append("text").attr("transform",`translate(140,${top+80}) rotate(-90)`).attr("text-anchor","middle").style("font-family",SERIF).style("font-size","13px").text("v");
    svg.append("text").attr("x",xr[0]+1).attr("y",top+14).attr("fill",motifColors[row]).style("font-family",SANS).style("font-weight","bold").style("font-size","13.5px").text(motifNames[row]);
    if(row===4) svg.append("text").attr("x",xr[0]+23).attr("y",top-2).attr("text-anchor","middle").attr("fill",motifColors[row]).style("font-family",SANS).style("font-weight","bold").style("font-size","11px").text("~");
  }
  if(row===4){
    svg.append("text").attr("x",(xr[0]+xr[1])/2).attr("y",960).attr("text-anchor","middle").style("font-family",SERIF).style("font-size","11.5px").text("time (ms)");
  }
}

function ccLegend(x0,yb){
  const t=svg.append("text").attr("x",x0).attr("y",yb).style("font-family",SERIF).style("font-size","13px");
  t.append("tspan").attr("fill",COL.c12).text("C");
  t.append("tspan").attr("fill",COL.c12).attr("dy",3).style("font-size","9.5px").text("12");
  t.append("tspan").attr("fill",COL.c12).attr("dy",-3).text(",");
  t.append("tspan").attr("fill",COL.c13).text("C");
  t.append("tspan").attr("fill",COL.c13).attr("dy",3).style("font-size","9.5px").text("13");
}

function corrAxes(row,col,xr,top){
  const bot=top+154;
  const x=d3.scaleLinear().domain([-100,100]).range(xr);
  const y=d3.scaleLinear().domain([0,1]).range([top+133,top]);
  const g=svg.append("g");
  g.append("g").attr("transform",`translate(0,${bot})`).call(d3.axisBottom(x).tickValues(lagTicks).tickSize(-(bot-top)).tickPadding(6)).call(styleAxis);
  g.append("g").attr("transform",`translate(${xr[0]},0)`).call(d3.axisLeft(y).tickValues(corrTicks).tickFormat(fmt).tickSize(-(xr[1]-xr[0])).tickPadding(col===2?8:7)).call(styleAxis);
  frameRect(g,xr[0],xr[1],top,bot);
  svg.append("text").attr("x",letterX[col]).attr("y",letterY[row]+(row===0?0:2)).attr("text-anchor","middle").style("font-family",SERIF).style("font-size","26px").text(letters[row][col]);
  ccLegend(xr[0]+10,top+17);
  if(col===2) svg.append("text").attr("transform",`translate(${xr[0]-31},${top+75}) rotate(-90)`).attr("text-anchor","middle").style("font-family",SERIF).style("font-size","11px").text("Cross-correlation (\u0394t)");
  if(row===4) svg.append("text").attr("x",(xr[0]+xr[1])/2).attr("y",960).attr("text-anchor","middle").style("font-family",SERIF).style("font-size","11.5px").text("time (ms)");
  return {g,x,y,bot};
}

function corrPanel(row,xr,data){
  const top=corrTop[row];
  const {g,x,y,bot}=corrAxes(row,2,xr,top);
  const line=d3.line().x(d=>x(d[0])).y(d=>y(d[1])).curve(d3.curveMonotoneX);
  const cp=g.append("g").attr("clip-path",clip(xr[0],xr[1],top-4,bot));
  cp.append("path").datum(data[0]).attr("d",line).attr("fill","none").attr("stroke",COL.c12).attr("stroke-width",1.3);
  cp.append("path").datum(data[1]).attr("d",line).attr("fill","none").attr("stroke",COL.c13).attr("stroke-width",1.3);
}

function errPanel(row,xr,data){
  const top=errTop[row];
  const {g,x,y,bot}=corrAxes(row,3,xr,top);
  const cp=g.append("g").attr("clip-path",clip(xr[0],xr[1],top-8,bot));
  const area=d3.area().x(d=>x(d[0])).y0(d=>y(d[1]-d[2])).y1(d=>y(d[1]+d[2])).curve(d3.curveMonotoneX);
  const line=d3.line().x(d=>x(d[0])).y(d=>y(d[1])).curve(d3.curveMonotoneX);
  const keys=[["pb",COL.c12,"#6a6aff"],["pr",COL.c13,"#ff6a6a"]];
  data.forEach((s,i)=>{
    cp.append("path").datum(s).attr("d",area).attr("fill",`url(#${keys[i][0]})`);
  });
  data.forEach((s,i)=>{
    cp.selectAll(null).data(s).enter().append("line")
      .attr("x1",d=>x(d[0])).attr("x2",d=>x(d[0])).attr("y1",d=>y(d[1]-d[2])).attr("y2",d=>y(d[1]+d[2]))
      .attr("stroke",keys[i][2]).attr("stroke-width",1).attr("stroke-dasharray","1,1");
    cp.selectAll(null).data(s).enter().append("path")
      .attr("d",d=>`M${x(d[0])-1.8},${y(d[1]+d[2])}h3.6M${x(d[0])-1.8},${y(d[1]-d[2])}h3.6`)
      .attr("stroke",keys[i][2]).attr("stroke-width",1);
  });
  data.forEach((s,i)=>{
    cp.append("path").datum(s).attr("d",line).attr("fill","none").attr("stroke",keys[i][1]).attr("stroke-width",2.6);
  });
}

// ================= MOTIF DIAGRAMS =================
const motifEdges=[
  [[2,1,1,0],[2,3,1,0]],
  [[2,1,1,1],[2,3,1,0]],
  [[2,1,1,1],[2,3,1,1]],
  [[1,3,1,1],[2,1,1,1],[2,3,1,1]],
  [[1,3,1,1],[2,1,1,1],[2,3,1,1]]
];
const motifY=[72,267,451,638,816], motifDX=[0,0,0,0,-3];
function drawMotif(i){
  const c=motifColors[i], y0=motifY[i], dx=motifDX[i];
  const P={1:[35+dx,y0],3:[106+dx,y0],2:[68+dx,y0+78]};
  const g=svg.append("g");
  function kite(tip,u){
    const n=[-u[1],u[0]];
    const a=[tip[0]-6*u[0]+4*n[0],tip[1]-6*u[1]+4*n[1]];
    const b=[tip[0]-15*u[0],tip[1]-15*u[1]];
    const d=[tip[0]-6*u[0]-4*n[0],tip[1]-6*u[1]-4*n[1]];
    g.append("path").attr("d",`M${tip}L${a}L${b}L${d}Z`).attr("fill",c);
  }
  motifEdges[i].forEach(([from,to,headTo,headFrom])=>{
    const p=P[from], q=P[to];
    const dxx=q[0]-p[0], dyy=q[1]-p[1], L=Math.hypot(dxx,dyy), u=[dxx/L,dyy/L];
    const offP=from===2?20:17, offQ=to===2?20:16;
    const s=[p[0]+u[0]*offP,p[1]+u[1]*offP], e=[q[0]-u[0]*offQ,q[1]-u[1]*offQ];
    g.append("line").attr("x1",s[0]).attr("y1",s[1]).attr("x2",e[0]).attr("y2",e[1]).attr("stroke",c).attr("stroke-width",2);
    if(headTo) kite(e,u);
    if(headFrom) kite(s,[-u[0],-u[1]]);
  });
  [1,2,3].forEach(k=>g.append("circle").attr("cx",P[k][0]).attr("cy",P[k][1]).attr("r",10.3).attr("fill","#fff").attr("stroke",c).attr("stroke-width",3.6));
  const lab=(txt,x,y,size)=>g.append("text").attr("x",x).attr("y",y).attr("text-anchor","middle").attr("fill",c).style("font-family",SANS).style("font-weight","bold").style("font-size",(size||14)+"px").text(txt);
  lab(motifNames[i],69+dx,y0-22);
  if(i===4) lab("~",73+dx,y0-37,12);
  if(i<3){ lab("1",12,y0+6); lab("3",83,y0+6); lab("2",42,y0+84); }
  else if(i===3){ lab("1",12,y0+6); lab("3",P[3][0],P[3][1]+5,13); lab("2",42,y0+84); }
  else { lab("?",10,y0+7); lab("?",P[3][0],P[3][1]+5,13); lab("?",40,y0+85); }
  const star=(x,y)=>g.append("text").attr("x",x).attr("y",y).attr("text-anchor","middle").attr("fill","#b01818").style("font-family",SANS).style("font-weight","bold").style("font-size","26px").text("*");
  if(i===1) star(38,y0+58);
  if(i===2){ star(37,y0+58); star(103,y0+58); }
}

// ================= RENDER =================
for(let r=0;r<5;r++){
  drawMotif(r);
  const v=voltRows[r];
  voltPanel(r,0,colA[r],[{data:v.nm1,color:COL.nm1},{data:v.nm3,color:COL.nm3}],"nm3");
  voltPanel(r,1,colB[r],[{data:v.nm1,color:COL.nm1},{data:v.nm2,color:COL.nm2}],"nm2");
  corrPanel(r,colC[r],corrRows[r]);
  errPanel(r,colD[r],errRows[r]);
}
</script>
</body></html>
